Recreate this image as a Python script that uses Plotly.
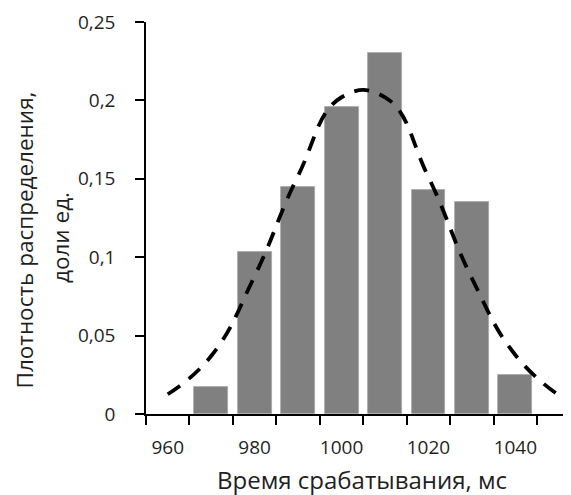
import plotly.graph_objects as go

# Data
bar_x = [970, 980, 990, 1000, 1010, 1020, 1030, 1040]
bar_y = [0.017, 0.1035, 0.145, 0.1955, 0.230, 0.143, 0.135, 0.025]
curve_x = [960, 970, 980, 990, 1000, 1010, 1020, 1030, 1040, 1050]
curve_y = [0.0126, 0.037, 0.088, 0.152, 0.202, 0.202, 0.151, 0.0865, 0.0376, 0.0119]
x_tickvals = [960, 980, 1000, 1020, 1040]
x_ticktext = ["960", "980", "1000", "1020", "1040"]
x_boundaries = [955, 965, 975, 985, 995, 1005, 1015, 1025, 1035, 1045]
y_tickvals = [0, 0.05, 0.1, 0.15, 0.2, 0.25]
y_ticktext = ["0", "0,05", "0,1", "0,15", "0,2", "0,25"]
x_title = "Время срабатывания, мс"
y_title_1 = "Плотность распределения,"
y_title_2 = "доли ед."

# page body has an 8px margin; the figure is offset by it
OFF = 8
W, H = 571 - OFF, 495 - OFF
L, R, T, B = 146 - OFF, 0, 22 - OFF, 81
FONT = "Open Sans"
TXT = "#1f1f1f"

def px_x(p):
    return (p - OFF - L) / (W - L - R)

def px_y(p):
    return (H - B - (p - OFF)) / (H - T - B)

fig = go.Figure()
fig.add_trace(go.Bar(
    x=bar_x, y=bar_y, width=7.8,
    marker=dict(color="#808080", line=dict(color="#a6a6a6", width=0.8)),
    showlegend=False,
))
fig.add_trace(go.Scatter(
    x=curve_x, y=curve_y, mode="lines",
    line=dict(color="black", width=3.8, dash="15px,11px", shape="spline", smoothing=1.3),
    showlegend=False,
))

fig.update_layout(
    width=W, height=H,
    margin=dict(l=L, r=R, t=T, b=B, pad=0),
    paper_bgcolor="white", plot_bgcolor="white",
    font=dict(family=FONT, color=TXT),
    xaxis=dict(
        range=[955, 1052.8], showgrid=False, zeroline=False,
        showline=True, linecolor="black", linewidth=1.5,
        tickmode="array", tickvals=x_tickvals, ticktext=x_ticktext,
        ticks="outside", ticklen=9, tickcolor="rgba(0,0,0,0)",
        ticklabelstandoff=6,
        tickfont=dict(size=19, family=FONT, color=TXT),
        minor=dict(tickmode="array", tickvals=x_boundaries, ticks="outside",
                   ticklen=9, tickwidth=1.5, tickcolor="black", showgrid=False),
    ),
    yaxis=dict(
        range=[0, 0.25], showgrid=False, zeroline=False,
        showline=True, linecolor="black", linewidth=1.5,
        tickmode="array", tickvals=y_tickvals, ticktext=y_ticktext,
        ticks="outside", ticklen=9, tickwidth=1.5, tickcolor="black",
        ticklabelstandoff=16,
        tickfont=dict(size=19, family=FONT, color=TXT),
    ),
    annotations=[
        dict(text=x_title, xref="paper", yref="paper", x=px_x(362), y=px_y(480),
             xanchor="center", yanchor="middle", showarrow=False,
             font=dict(size=24, family=FONT, color=TXT)),
        dict(text=y_title_1, xref="paper", yref="paper", x=px_x(23.5), y=px_y(240),
             xanchor="center", yanchor="middle", showarrow=False, textangle=-90,
             borderpad=0, font=dict(size=22.5, family=FONT, color=TXT)),
        dict(text=y_title_2, xref="paper", yref="paper", x=px_x(61), y=px_y(238),
             xanchor="center", yanchor="middle", showarrow=False, textangle=-90,
             borderpad=0, font=dict(size=22.5, family=FONT, color=TXT)),
    ],
    bargap=0,
)

fig.write_html("out.html")
